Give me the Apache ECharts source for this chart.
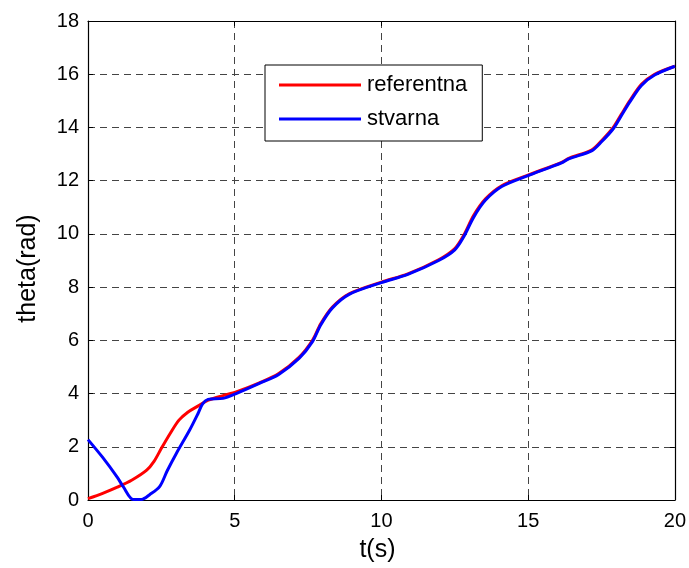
<!DOCTYPE html>
<html>
<head>
<meta charset="utf-8">
<script src="https://cdn.jsdelivr.net/npm/echarts@6/dist/echarts.min.js"></script>
<style>
  html, body { margin: 0; padding: 0; background: #fff; }
  #chart { width: 689px; height: 568px; }
</style>
</head>
<body>
<div id="chart"></div>
<script>
// Reference trajectory: time (s) and angle (rad)
const refT = [0, 0.5, 1.0, 1.5, 2.0, 2.25, 2.5, 2.8, 3.1, 3.4, 3.7, 4.1, 4.6, 5.05, 5.84, 6.5, 7.2, 7.65, 7.93, 8.33, 8.9, 10.0, 10.9, 11.95, 12.5, 12.8, 13.14, 13.54, 14.1, 14.95, 16.14, 16.4, 17.16, 17.5, 17.9, 18.18, 18.46, 18.86, 19.31, 20];
const refTheta = [0.05, 0.25, 0.48, 0.75, 1.12, 1.45, 1.94, 2.5, 3.0, 3.3, 3.5, 3.75, 3.92, 4.06, 4.4, 4.75, 5.37, 6.0, 6.62, 7.25, 7.75, 8.19, 8.5, 9.03, 9.45, 9.94, 10.69, 11.31, 11.81, 12.19, 12.69, 12.85, 13.15, 13.5, 14.0, 14.5, 15.0, 15.62, 16.0, 16.3];

// Actual trajectory
const actT = [0, 0.5, 1.0, 1.2, 1.54, 1.82, 2.1, 2.44, 2.7, 3.01, 3.46, 3.75, 3.9, 4.09, 4.6, 5.05, 5.84, 6.5, 7.2, 7.65, 7.93, 8.33, 8.9, 10.0, 10.9, 11.95, 12.5, 12.8, 13.14, 13.54, 14.1, 14.95, 16.14, 16.4, 17.16, 17.5, 17.9, 18.18, 18.46, 18.86, 19.31, 20];
const actTheta = [2.27, 1.6, 0.85, 0.5, 0.02, 0.02, 0.2, 0.5, 1.1, 1.75, 2.62, 3.25, 3.6, 3.78, 3.82, 4.0, 4.38, 4.72, 5.33, 5.95, 6.58, 7.22, 7.73, 8.17, 8.48, 9.0, 9.4, 9.88, 10.62, 11.26, 11.78, 12.17, 12.67, 12.83, 13.12, 13.46, 13.95, 14.45, 14.95, 15.58, 15.97, 16.3];

const seriesNames = ['referentna', 'stvarna'];
const xTicks = { min: 0, max: 20, interval: 5 };
const yTicks = { min: 0, max: 18, interval: 2 };

const pairs = (xs, ys) => xs.map((x, i) => [x, ys[i]]);

const font = 'Arial, "Liberation Sans", sans-serif';
const chart = echarts.init(document.getElementById('chart'));

const frameAxis = (extra) => Object.assign({
  type: 'value',
  axisLine: { show: true, onZero: false, lineStyle: { color: '#000', width: 1.2 } },
  axisTick: { show: true, inside: true, length: 5, lineStyle: { color: '#000' } },
  axisLabel: { show: false },
  splitLine: { show: false }
}, extra);

chart.setOption({
  animation: false,
  backgroundColor: '#fff',
  grid: { left: 88, top: 21, right: 12, bottom: 68, containLabel: false },
  legend: {
    orient: 'vertical',
    left: 265,
    top: 65,
    backgroundColor: '#fff',
    borderColor: '#000',
    borderWidth: 1,
    borderRadius: 0,
    padding: [9, 15, 11, 14],
    itemGap: 12,
    itemWidth: 82,
    itemHeight: 3,
    icon: 'rect',
    textStyle: { fontFamily: font, fontSize: 22, color: '#000', padding: [0, 0, 0, 1] },
    data: seriesNames
  },
  xAxis: [
    {
      type: 'value',
      min: xTicks.min, max: xTicks.max, interval: xTicks.interval,
      name: 't(s)',
      nameLocation: 'middle',
      nameGap: 38,
      nameTextStyle: { fontFamily: font, fontSize: 25, color: '#000', padding: [0, 8, 0, 0] },
      axisLine: { show: true, onZero: false, lineStyle: { color: '#000', width: 1.2 } },
      axisTick: { show: true, inside: true, length: 5, lineStyle: { color: '#000' } },
      axisLabel: { fontFamily: font, fontSize: 20, color: '#000', margin: 11 },
      splitLine: { show: true, lineStyle: { color: '#444', type: [7, 5], width: 1 } }
    },
    frameAxis({ position: 'top', min: xTicks.min, max: xTicks.max, interval: xTicks.interval })
  ],
  yAxis: [
    {
      type: 'value',
      min: yTicks.min, max: yTicks.max, interval: yTicks.interval,
      name: 'theta(rad)',
      nameLocation: 'middle',
      nameGap: 47,
      nameRotate: 90,
      nameTextStyle: { fontFamily: font, fontSize: 25, color: '#000', padding: [0, 16, 0, 0] },
      axisLine: { show: true, onZero: false, lineStyle: { color: '#000', width: 1.2 } },
      axisTick: { show: true, inside: true, length: 5, lineStyle: { color: '#000' } },
      axisLabel: { fontFamily: font, fontSize: 20, color: '#000', margin: 9 },
      splitLine: { show: true, lineStyle: { color: '#444', type: [7, 5], width: 1 } }
    },
    frameAxis({ position: 'right', min: yTicks.min, max: yTicks.max, interval: yTicks.interval })
  ],
  series: [
    {
      name: seriesNames[0],
      type: 'line',
      smooth: 0.3,
      symbol: 'none',
      color: '#ff0000',
      lineStyle: { color: '#ff0000', width: 3 },
      data: pairs(refT, refTheta)
    },
    {
      name: seriesNames[1],
      type: 'line',
      smooth: 0.3,
      symbol: 'none',
      color: '#0000ff',
      lineStyle: { color: '#0000ff', width: 3 },
      data: pairs(actT, actTheta)
    }
  ]
});
</script>
</body>
</html>
